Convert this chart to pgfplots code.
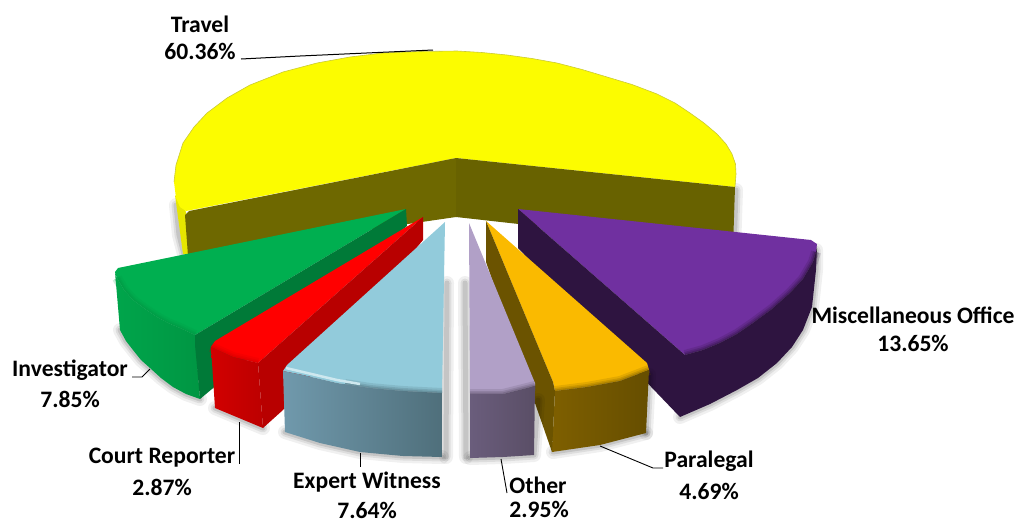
\documentclass[border=0pt]{standalone}
\usepackage{fontspec}
\setmainfont{Carlito}
\usepackage{pgfplots}
\pgfplotsset{compat=1.18}
\definecolor{ytop}{HTML}{FCFC00}
\definecolor{ysl}{HTML}{E6E600}
\definecolor{ywl}{HTML}{6E6800}
\definecolor{ywr}{HTML}{686200}
\definecolor{gtop}{HTML}{00AF50}
\definecolor{gin}{HTML}{007A38}
\definecolor{gwa}{HTML}{00A54B}
\definecolor{gwb}{HTML}{009643}
\definecolor{rtop}{HTML}{FF0000}
\definecolor{rin}{HTML}{B80000}
\definecolor{rwa}{HTML}{D20000}
\definecolor{rwb}{HTML}{BC0000}
\definecolor{btop}{HTML}{92CBDB}
\definecolor{bwa}{HTML}{7099AC}
\definecolor{bwb}{HTML}{4F6F7B}
\definecolor{ltop}{HTML}{B1A0C7}
\definecolor{lwa}{HTML}{6A5D7C}
\definecolor{lwb}{HTML}{5A4E66}
\definecolor{otop}{HTML}{FABA00}
\definecolor{oin}{HTML}{6B5300}
\definecolor{owa}{HTML}{7E5F00}
\definecolor{owb}{HTML}{664E00}
\definecolor{ptop}{HTML}{7030A0}
\definecolor{pdk}{HTML}{2E1440}
\newcommand\softshadow[1]{%
  \addplot[draw=black,opacity=.06,line width=14pt,line cap=round] coordinates {#1};
  \addplot[draw=black,opacity=.08,line width=9pt,line cap=round] coordinates {#1};
  \addplot[draw=black,opacity=.11,line width=5pt,line cap=round] coordinates {#1};
}
\newcommand\bevel[2]{%
  \addplot[draw=#1,opacity=.18,line width=10pt] coordinates {#2};
  \addplot[draw=#1,opacity=.25,line width=6pt] coordinates {#2};
  \addplot[draw=#1,opacity=.35,line width=3pt] coordinates {#2};
}
\newcommand\lab[3]{\node[font=\fontsize{23.6}{28}\selectfont\bfseries,text=black,inner sep=0pt] at (axis cs:#1,#2) {#3};}
\begin{document}
\begin{tikzpicture}
\path[use as bounding box] (0,0) rectangle (1018pt,523pt);
\begin{axis}[hide axis,clip=false,scale only axis,width=1018pt,height=523pt,
  at={(0,0)},anchor=south west,
  xmin=0,xmax=1018,ymin=0,ymax=523,y dir=reverse,no markers,
  every axis plot/.append style={sharp plot,line join=round}]
% ---- Travel
\softshadow{(176,205)(179,235)(186,262)}
\softshadow{(736,190)(734,250)}
\addplot[draw=none,fill=ysl] coordinates {(175,195)(183,254)(189,254)(186,212)} --cycle;
\addplot[draw=none,fill=ytop] coordinates {(456,158)(186,211)(180,207)(176,198)(174,182)(176,165)(183,143)(194,127)(207,113)(227,98)(250,85)(283,72)(317,63)(350,57)(383,53)(420,51.5)(457,51)(482,52.5)(507,55)(532,58.5)(557,63)(582,69.5)(607,77)(632,84.5)(657,94)(675,103)(690,113)(704,123)(717,134)(726,144)(732,154)(735.5,164)(736,174)(735,187)} --cycle;
\addplot[draw=gray!40!ytop,line width=.6pt] coordinates {(174,182)(176,165)(183,143)(194,127)(207,113)(227,98)(250,85)(283,72)(317,63)(350,57)(383,53)(420,51.5)(457,51)(482,52.5)(507,55)(532,58.5)(557,63)(582,69.5)(607,77)(632,84.5)(657,94)(675,103)(690,113)(704,123)(717,134)(726,144)(732,154)(735.5,164)(736,174)(735,187)};
\addplot[draw=none,fill=ywl] coordinates {(456,158)(189,211)(185,215)(188,256)(456,217)} --cycle;
\addplot[draw=none,fill=ywr] coordinates {(456,158)(735,187)(733,248)(456,217)} --cycle;
% ---- Investigator
\softshadow{(120,330)(126,341)(133,350)(141,360)(150,368)(161,378)(173,387)(186,394)(200,399)}
\addplot[draw=none,fill=gtop] coordinates {(406,209)(118,268)(115,272)(117,278)(124,290)(133,300)(145,309)(157,317)(168,323)(180,328)(195,335)} --cycle;
\bevel{gwb}{(117,278)(124,290)(133,300)(145,309)(157,317)(168,323)(180,328)(195,335)}
\addplot[draw=none,left color=gwa,right color=gwb] coordinates {(115,272)(117,278)(124,290)(133,300)(145,309)(157,317)(168,323)(180,328)(195,335)(200,399)(186,394)(173,387)(161,378)(150,368)(141,360)(133,350)(126,341)(120,330)} --cycle;
\addplot[draw=none,fill=gin] coordinates {(406,209)(407,226)(200,399)(195,345)(195,335)} --cycle;
% ---- Miscellaneous Office
\softshadow{(816,250)(816,270)(812,307)(803,330)(792,347)(777,363)(758,378)(737,390)(710,404)(680,417)}
\addplot[draw=none,fill=ptop] coordinates {(518,209)(811,240)(817,244)(816,252)(813,262)(803,279)(790,293)(772,309)(753,323)(737,334)(720,343)(703,350)(685,355)} --cycle;
\bevel{pdk}{(816,252)(813,262)(803,279)(790,293)(772,309)(753,323)(737,334)(720,343)(703,350)(685,355)}
\addplot[draw=none,fill=pdk] coordinates {(518,209)(685,355)(703,350)(720,343)(737,334)(753,323)(772,309)(790,293)(803,279)(813,262)(816,252)(817,246)(816,270)(812,307)(803,330)(792,347)(777,363)(758,378)(737,390)(710,404)(680,417)(518,248)} --cycle;
% ---- Court Reporter
\softshadow{(215,408)(263,428)}
\addplot[draw=none,fill=rtop] coordinates {(423,217)(215,341)(211,347)(233,357)(258,363)} --cycle;
\bevel{rwa}{(211,347)(233,357)(258,363)}
\addplot[draw=none,left color=rwa,right color=rwb] coordinates {(211,347)(233,357)(258,363)(263,428)(215,408)} --cycle;
\addplot[draw=none,fill=rin] coordinates {(423,217)(423,240)(283,410)(263,428)(258,363)} --cycle;
% ---- Paralegal
\softshadow{(553,452)(600,445)(646,433)}
\softshadow{(649,375)(646,433)}
\addplot[draw=none,fill=otop] coordinates {(486,221)(647,363)(649,370)(620,381)(587,387)(555,391)(553,382)} --cycle;
\bevel{owa}{(649,370)(620,381)(587,387)(555,391)}
\addplot[draw=none,left color=owa,right color=owb] coordinates {(555,391)(587,387)(620,381)(649,370)(646,433)(600,445)(552,452)} --cycle;
\addplot[draw=none,fill=oin] coordinates {(486,221)(486,262)(552,452)(555,391)(553,382)} --cycle;
% ---- Expert Witness
\softshadow{(447,283)(446,457)}
\softshadow{(285,432)(320,443)(360,452)(403,456)(442,457)}
\addplot[draw=none,fill=btop] coordinates {(445,222)(287,365)(283,371)(303,375)(337,383)(370,388)(403,391)(442,393)} --cycle;
\bevel{bwb}{(345,384)(370,388)(403,391)(442,393)}
\addplot[draw=white!55!btop,line width=2.5pt] coordinates {(286,368)(303,372)(337,380)(360,384)};
\addplot[draw=none,left color=bwa,right color=bwb] coordinates {(283,371)(303,375)(337,383)(370,388)(403,391)(442,393)(442,457)(403,456)(360,452)(320,443)(285,432)} --cycle;
% ---- Other
\softshadow{(465,283)(466,457)}
\softshadow{(470,458)(503,457)(534,455)(538,400)}
\addplot[draw=none,fill=ltop] coordinates {(469,223)(535,383)(535,386)(503,394)(470,394)} --cycle;
\bevel{lwb}{(535,386)(503,394)(470,394)}
\addplot[draw=none,left color=lwa,right color=lwb] coordinates {(470,394)(503,394)(535,386)(534,455)(503,457)(470,458)} --cycle;
% ---- leader lines
\addplot[draw=black,line width=1pt] coordinates {(241,59)(300,56)(433,50)};
\addplot[draw=black,line width=.9pt] coordinates {(132,377)(142,377)(150,369)};
\addplot[draw=black,line width=.9pt] coordinates {(239,422)(239,464)};
\addplot[draw=black,line width=.9pt] coordinates {(360,453)(360,467)};
\addplot[draw=black,line width=.9pt] coordinates {(501,459)(507,493)};
\addplot[draw=black,line width=.9pt] coordinates {(600,446)(653,468)(663,468)};
% ---- labels
\lab{200}{24}{Travel}
\lab{200}{51}{60.36\%}
\lab{913}{315}{Miscellaneous Office}
\lab{913}{343}{13.65\%}
\lab{709}{461}{Paralegal}
\lab{709}{491}{4.69\%}
\lab{538}{485}{Other}
\lab{539}{509}{2.95\%}
\lab{367}{482}{Expert Witness}
\lab{367}{510}{7.64\%}
\lab{162}{458}{Court Reporter}
\lab{162}{487}{2.87\%}
\lab{70}{370}{Investigator}
\lab{70}{399}{7.85\%}
\end{axis}
\end{tikzpicture}
\end{document}
